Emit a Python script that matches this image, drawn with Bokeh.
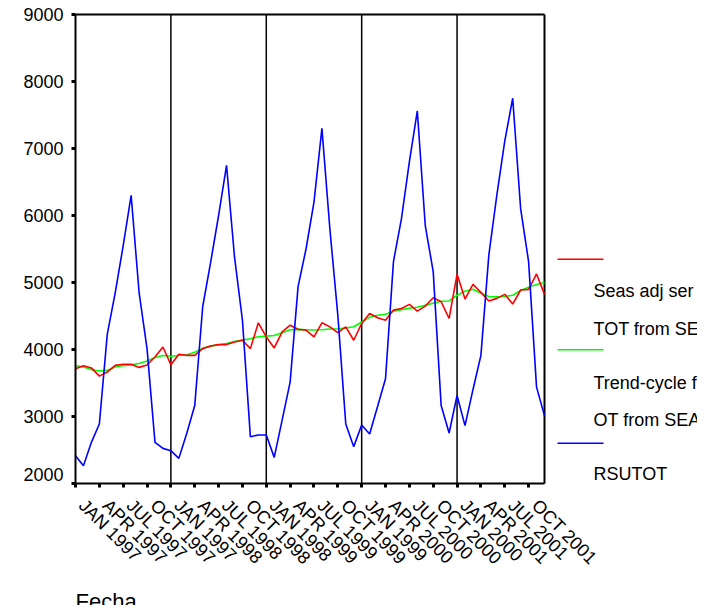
import math
from bokeh.plotting import figure
from bokeh.models import Range1d, FixedTicker
from bokeh.core.properties import value
from bokeh.embed import file_html
from bokeh.resources import INLINE

# ---------------- data ----------------
years = [1997, 1998, 1999, 2000, 2001]
month_names = ["JAN", "FEB", "MAR", "APR", "MAY", "JUN",
               "JUL", "AUG", "SEP", "OCT", "NOV", "DEC"]
months = [f"{m} {y}" for y in years for m in month_names]

rsutot = [2415, 2265, 2614, 2888, 4230, 4850, 5550, 6300, 4850, 4013, 2614, 2524,
          2490, 2375, 2750, 3163, 4638, 5300, 6000, 6750, 5385, 4438, 2699, 2724,
          2724, 2390, 2950, 3514, 4938, 5500, 6200, 7300, 5800, 4513, 2888, 2550,
          2873, 2738, 3150, 3563, 5312, 5950, 6800, 7560, 5850, 5162, 3163, 2754,
          3313, 2864, 3400, 3913, 5412, 6300, 7110, 7750, 6100, 5312, 3438, 3013]

seas_adj = [3713, 3758, 3725, 3603, 3663, 3763, 3780, 3780, 3733, 3768, 3888, 4038,
            3773, 3929, 3913, 3913, 4013, 4053, 4073, 4073, 4113, 4138, 4013, 4398,
            4188, 4023, 4263, 4363, 4303, 4288, 4188, 4398, 4338, 4253, 4338, 4138,
            4388, 4538, 4473, 4438, 4588, 4613, 4673, 4573, 4648, 4773, 4713, 4463,
            5122, 4753, 4973, 4853, 4723, 4763, 4823, 4678, 4888, 4898, 5128, 4823]

trend = [3760, 3740, 3700, 3680, 3690, 3740, 3760, 3770, 3790, 3830, 3880, 3910,
         3900, 3910, 3920, 3960, 4020, 4050, 4070, 4090, 4120, 4140, 4160, 4190,
         4200, 4210, 4250, 4295, 4300, 4295, 4290, 4295, 4305, 4310, 4320, 4340,
         4410, 4480, 4510, 4525, 4570, 4595, 4615, 4630, 4660, 4690, 4720, 4725,
         4810, 4870, 4900, 4840, 4790, 4785, 4790, 4810, 4880, 4930, 4970, 5000]

x_tick_labels = ["JAN 1997", "APR 1997", "JUL 1997", "OCT 1997",
                 "JAN 1997", "APR 1998", "JUL 1998", "OCT 1998",
                 "JAN 1998", "APR 1999", "JUL 1999", "OCT 1999",
                 "JAN 1999", "APR 2000", "JUL 2000", "OCT 2000",
                 "JAN 2000", "APR 2001", "JUL 2001", "OCT 2001"]

y_ticks = [2000, 3000, 4000, 5000, 6000, 7000, 8000, 9000]

legend_colors = ["#ff0000", "#00ff00", "#0000ff"]
legend_lines = [["Seas adj ser for RSU", "TOT from SEASON, MOD_1 MUL EQU 12"],
                ["Trend-cycle for RSUT", "OT from SEASON, MOD_1 MUL EQU 12"],
                ["RSUTOT"]]

x_title = "Fecha"

# ---------------- layout geometry (canvas pixels) ----------------
FONT = "Liberation Sans"
W, H = 697, 605
FL, FR, FT, FB = 75, 544, 14, 483          # plot box inside the canvas
SWATCH_Y = [258.7, 349.3, 442.7]          # legend swatch rows
LEGEND_TEXT_Y = [[290.5, 328.0], [382.0, 419.5], [473.7]]
SWATCH_X = (557, 603)
LEGEND_TEXT_X = 593
TITLE_TOP = 588
XLAB_DX, XLAB_DY = 6.5, 19.0              # rotated tick-label anchor offset

xs = list(range(len(months)))
x_ticks = [i for i in xs if i % 3 == 0]
year_starts = [i for i, m in enumerate(months) if m.startswith("JAN") and i > 0]

x0, x1 = xs[0], xs[-1]
y0, y1 = y_ticks[0], y_ticks[-1]
kx = (FR - FL) / (x1 - x0)
ky = (FB - FT) / (y1 - y0)
x_start = x0 - FL / kx
x_end = x1 + (W - FR) / kx
y_end = y1 + FT / ky
y_start = y0 - (H - FB) / ky


def px_x(px):
    return x_start + px / kx


def px_y(py):
    return y_end - py / ky


p = figure(width=W, height=H,
           x_range=Range1d(x_start, x_end), y_range=Range1d(y_start, y_end),
           output_backend="svg", toolbar_location=None, min_border=0)
p.xgrid.visible = False
p.ygrid.visible = False
p.outline_line_color = None

for ax in (p.xaxis, p.yaxis):
    ax.axis_line_width = 2
    ax.axis_line_color = "black"
    ax.major_tick_in = 0
    ax.major_tick_out = 4
    ax.major_tick_line_width = 3
    ax.major_tick_line_color = "black"
    ax.minor_tick_line_color = None
    ax.major_label_text_font = FONT
    ax.major_label_text_font_size = "18px"
    ax.major_label_text_color = "black"

p.xaxis.fixed_location = y0
p.xaxis.bounds = (x0, x1)
p.xaxis.ticker = FixedTicker(ticks=x_ticks)
p.xaxis.major_label_text_font_size = "0px"
p.xaxis.major_label_overrides = {t: "" for t in x_ticks}

p.yaxis.fixed_location = x0
p.yaxis.bounds = (y0, y1)
p.yaxis.ticker = FixedTicker(ticks=y_ticks)
p.yaxis.major_label_overrides = {y_ticks[0]: ""}
p.yaxis.major_label_standoff = 8

# top and right edges of the plot box, and the yearly dividers
p.segment(x0=[x0], x1=[x1], y0=[y1], y1=[y1], line_color="black", line_width=2)
p.segment(x0=[x1], x1=[x1], y0=[y0], y1=[y1], line_color="black", line_width=2)
p.segment(x0=year_starts, x1=year_starts, y0=[y0] * len(year_starts),
          y1=[y1] * len(year_starts), line_color="black", line_width=1.5)

# series
p.line(xs, trend, line_color="#00ff00", line_width=1.6)
p.line(xs, seas_adj, line_color="#ff0000", line_width=1.6)
p.line(xs, rsutot, line_color="#0000ff", line_width=1.6)

# x tick labels (rotated 45 degrees, starting just right of / below each tick)
p.text(x=[t + XLAB_DX / kx for t in x_ticks], y=[px_y(FB + XLAB_DY)] * len(x_ticks),
       text=x_tick_labels, angle=-math.pi / 4,
       text_align="left", text_baseline="middle",
       text_font=value(FONT), text_font_size=value("18px"), text_color="black")

# lowest y tick label sits slightly raised in the reference
p.text(x=[px_x(FL - 12)], y=[px_y(FB - 9.5)], text=[str(y_ticks[0])],
       text_align="right", text_baseline="middle",
       text_font=value(FONT), text_font_size=value("18px"), text_color="black")

# x axis title (cut by the bottom edge, as in the reference)
p.text(x=[px_x(FL)], y=[px_y(TITLE_TOP)], text=[x_title],
       text_align="left", text_baseline="top",
       text_font=value(FONT), text_font_size=value("22px"), text_color="black")

# legend (to the right of the plot box, cut by the right edge)
for sy, col, lines, tys in zip(SWATCH_Y, legend_colors, legend_lines, LEGEND_TEXT_Y):
    p.segment(x0=[px_x(SWATCH_X[0])], x1=[px_x(SWATCH_X[1])],
              y0=[px_y(sy)], y1=[px_y(sy)], line_color=col, line_width=1.5)
    p.text(x=[px_x(LEGEND_TEXT_X)] * len(lines), y=[px_y(ty) for ty in tys],
           text=lines, text_font=value(FONT), text_font_size=value("18px"),
           text_align="left", text_baseline="middle", text_color="black")

open("out.html", "w").write(file_html(p, INLINE))
